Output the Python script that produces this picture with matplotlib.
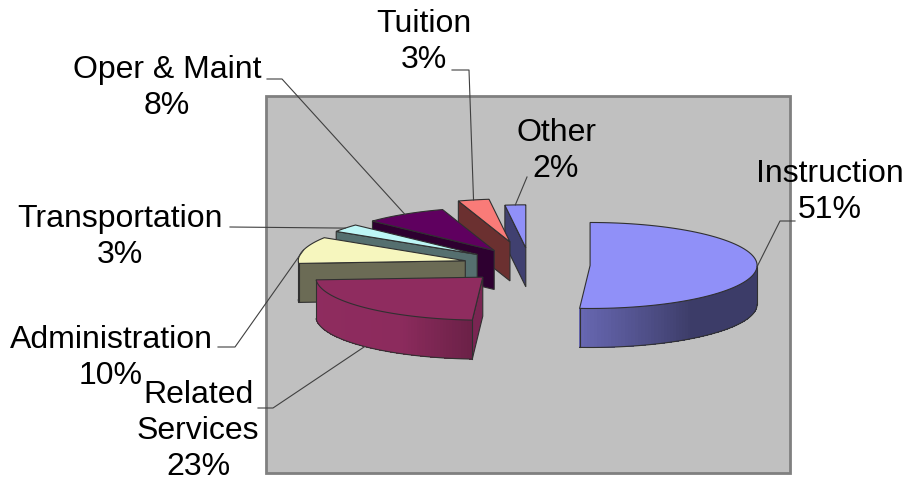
#!/usr/bin/env python3
"""Exploded 3D-style pie of spending shares"""

import numpy as np
import matplotlib

matplotlib.use("Agg")

import matplotlib.pyplot as plt
from matplotlib.patches import Polygon, Rectangle

plt.rcParams["font.family"] = ["Liberation Sans", "DejaVu Sans"]

categories = ["Instruction", "Related\nServices", "Administration", "Transportation",
              "Oper & Maint", "Tuition", "Other"]
shares = [51, 23, 10, 3, 8, 3, 2]

# drawing setup, in figure pixels
top_colors = ["#9090f8", "#8f2c5f", "#f6f6be", "#bdf6f6", "#5f005f", "#f97b78", "#9090f8"]
side_colors = ["#3d3d69", "#7a2552", "#6b6b55", "#556f6f", "#2e0030", "#6b3030", "#404070"]
explode = [0.36, 0.40, 0.40, 0.40, 0.40, 0.55, 0.40]
CENTER = (530, 265)
RX, RY, DEPTH = 167, 43, 39
# label centre x, y of the block, then the elbow of its leader line
label_pos = [(830, 192), (198, 431), (111, 358), (120, 237), (167, 88), (424, 42), (556, 151)]
elbows = [[(780, 221), (795, 221)], [(273, 408), (258, 408)], [(235, 347), (218, 347)],
          [(230, 227)], [(282, 79), (267, 79)], [(469, 70), (452, 70)], [(527, 177)]]
# shade stops along the curved wall (angle, factor on top colour)
wall_shades = {
    0: ([90, 143, 184], [0.42, 0.42, 0.72]),
    1: ([183, 210, 270], [0.74, 0.98, 1.0]),
}


def arc_pt(cx, cy, deg):
    rad = np.radians(deg)
    return cx + RX * np.sin(rad), cy - RY * np.cos(rad)


def scale_color(color, factor):
    return tuple(c * factor for c in matplotlib.colors.to_rgb(color))


def draw_slice(ax, i, a0, a1):
    mid = (a0 + a1) / 2
    cx = CENTER[0] + explode[i] * RX * np.sin(np.radians(mid))
    cy = CENTER[1] - explode[i] * RY * np.cos(np.radians(mid))
    edge = "#303030"

    # cut face on the leading edge, only faces the viewer on the left half
    if a0 >= 180:
        px, py = arc_pt(cx, cy, a0)
        ax.add_patch(Polygon([(cx, cy), (px, py), (px, py + DEPTH), (cx, cy + DEPTH)],
                             facecolor=side_colors[i], edgecolor=edge, lw=0.8))

    # curved wall, front part of the ellipse only
    w0, w1 = max(a0, 90), min(a1, 270)
    if w1 > w0:
        grid = np.linspace(w0, w1, 80)
        for g0, g1 in zip(grid[:-1], grid[1:]):
            if i in wall_shades:
                col = scale_color(top_colors[i], np.interp((g0 + g1) / 2, *wall_shades[i]))
            else:
                col = side_colors[i]
            x0, y0 = arc_pt(cx, cy, g0)
            x1, y1 = arc_pt(cx, cy, g1)
            ax.add_patch(Polygon([(x0, y0), (x1, y1), (x1, y1 + DEPTH), (x0, y0 + DEPTH)],
                                 facecolor=col, edgecolor="none", antialiased=False))
        xs, ys = arc_pt(cx, cy, grid)
        ax.plot(xs, ys + DEPTH, color=edge, lw=0.8, zorder=1.5)
        ax.plot([xs[0], xs[0]], [ys[0], ys[0] + DEPTH], color=edge, lw=0.8, zorder=1.5)
        ax.plot([xs[-1], xs[-1]], [ys[-1], ys[-1] + DEPTH], color=edge, lw=0.8, zorder=1.5)

    # top face
    grid = np.linspace(a0, a1, 80)
    xs, ys = arc_pt(cx, cy, grid)
    ax.add_patch(Polygon(np.column_stack([np.r_[cx, xs], np.r_[cy, ys]]),
                         facecolor=top_colors[i], edgecolor=edge, lw=0.8, zorder=1.6))
    return cx, cy, mid


def main():
    fig = plt.figure(figsize=(9.07, 4.84), dpi=100)
    ax = fig.add_axes([0, 0, 1, 1])
    ax.set_xlim(0, 907)
    ax.set_ylim(484, 0)
    ax.axis("off")

    ax.add_patch(Rectangle((266, 96), 524, 377, facecolor="#c0c0c0", edgecolor="#808080",
                           lw=2.0, zorder=0))

    stops = np.cumsum([0] + shares) / sum(shares) * 360
    # back slices first so the front ones overlap them
    centers = {}
    for i in reversed(range(len(shares))):
        centers[i] = draw_slice(ax, i, stops[i], stops[i + 1])

    for i, name in enumerate(categories):
        cx, cy, mid = centers[i]
        sx, sy = arc_pt(cx, cy, mid)
        # leader starts at the foot of the wall on front slices
        if 100 < mid < 270:
            sy += DEPTH
        pts = [(sx, sy)] + elbows[i]
        ax.plot([p[0] for p in pts], [p[1] for p in pts], color="#404040", lw=0.8, zorder=3)
        ax.text(label_pos[i][0], label_pos[i][1], f"{name}\n{shares[i]}%", ha="center", va="center",
                fontsize=23, linespacing=1.24, color="black", zorder=4)

    fig.savefig("out.png", dpi=100)
    plt.close(fig)


if __name__ == "__main__":
    main()
